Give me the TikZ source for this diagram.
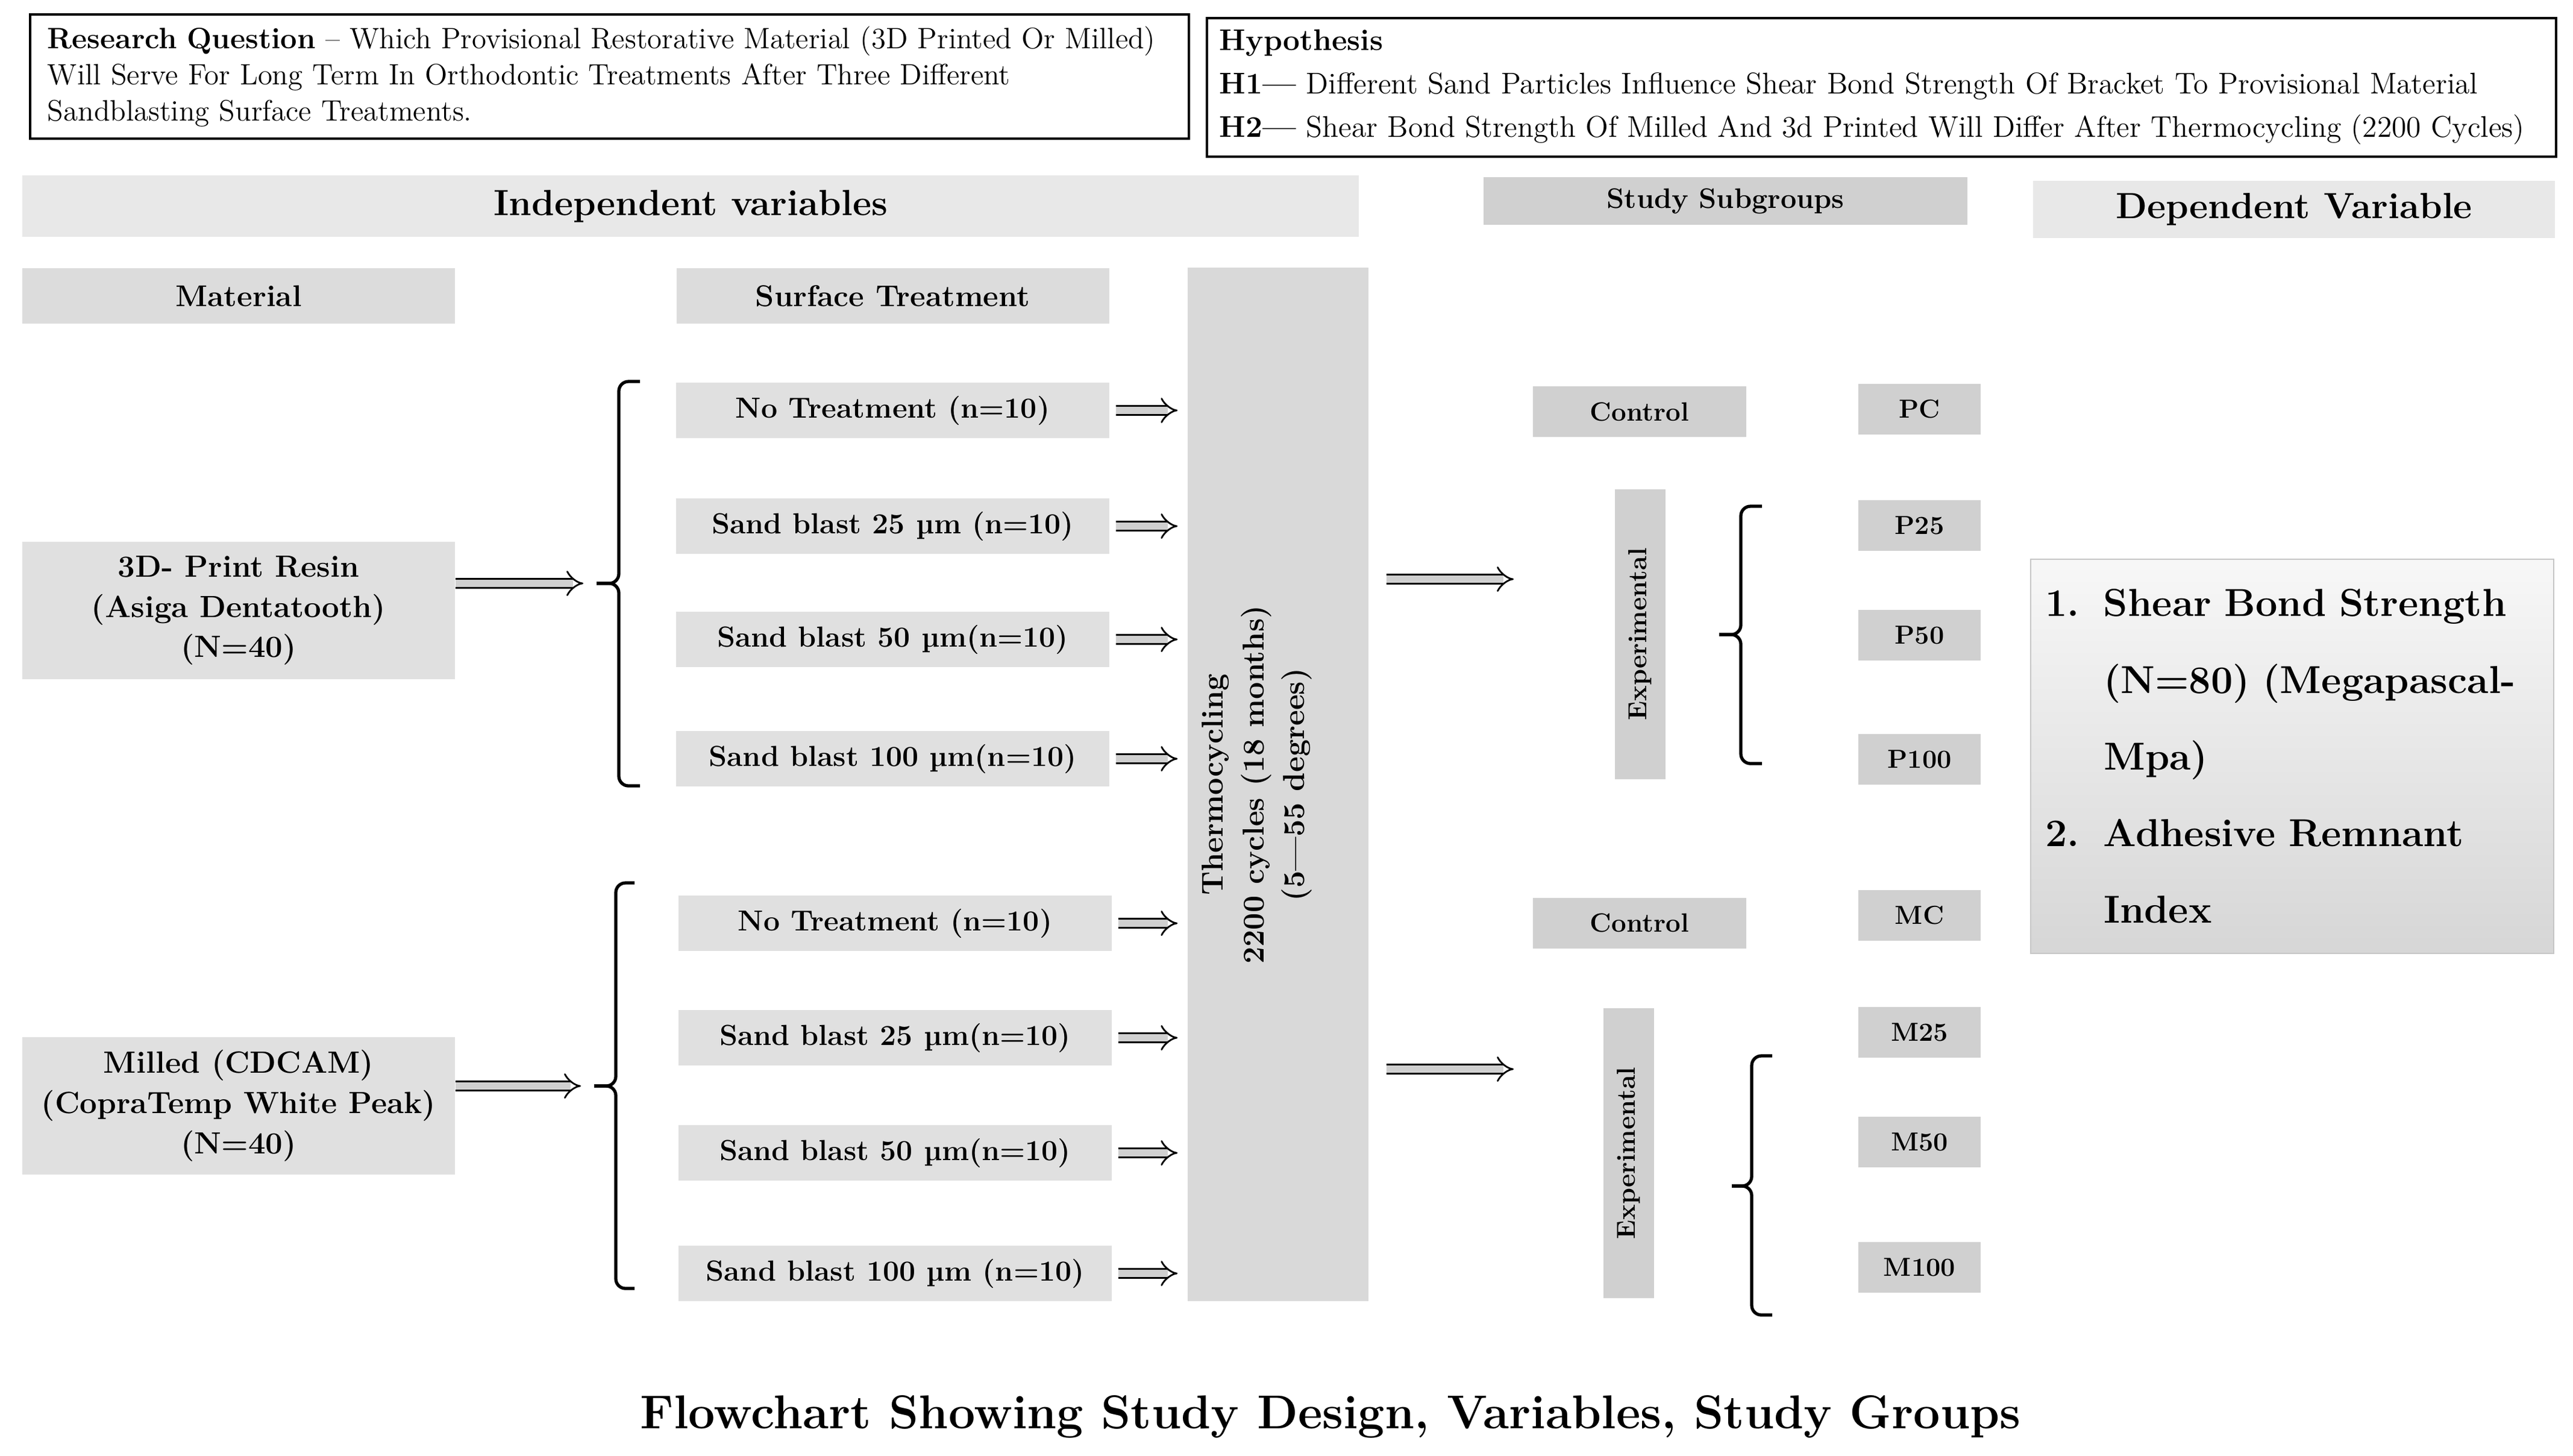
\documentclass[tikz,border=0pt]{standalone}
\usepackage{tikz}
\usetikzlibrary{arrows.meta}
\definecolor{bannergray}{HTML}{E8E8E8}
\definecolor{headgray}{HTML}{DCDCDC}
\definecolor{boxgray}{HTML}{E0E0E0}
\definecolor{cyclegray}{HTML}{D9D9D9}
\definecolor{groupgray}{HTML}{D0D0D0}

\begin{document}
\begin{tikzpicture}[%
% common options for the framed texts:
frame/.style = {draw, line width=1.1pt, align=left, anchor=north west, inner ysep=0},
% common options for the grey blocks:
banner/.style = {fill=bannergray, inner sep=0, font=\bfseries\fontsize{17.2}{20}\selectfont},
head/.style = {fill=headgray, minimum width=7.18cm, minimum height=0.92cm, inner sep=0,
            font=\bfseries\fontsize{14.2}{17}\selectfont},
treat/.style = {fill=boxgray, minimum width=7.19cm, minimum height=0.92cm, inner sep=0,
            font=\bfseries\fontsize{13.7}{16}\selectfont},
mat/.style = {fill=boxgray, align=center, minimum width=7.18cm, minimum height=2.28cm, inner sep=0,
            font=\bfseries\fontsize{14.5}{19}\selectfont},
group/.style = {fill=groupgray, minimum width=2.03cm, minimum height=0.84cm, inner sep=0,
            font=\bfseries\fontsize{12.3}{14}\selectfont},
ctrl/.style = {fill=groupgray, minimum width=3.54cm, minimum height=0.84cm, inner sep=0,
            font=\bfseries\fontsize{12.5}{15}\selectfont},
expbox/.style = {fill=groupgray, rotate=90, minimum width=4.81cm, minimum height=0.84cm, inner sep=0,
            font=\bfseries\fontsize{12.3}{14}\selectfont},
% common options for the hollow arrows and the brackets:
fat/.style = {double=groupgray, double distance=1.2mm, line width=0.8pt, -{Implies}},
bracket/.style = {line width=1.5pt, rounded corners=1.6mm}]
\useasboundingbox (0,0) rectangle (42.70,-24.15);
% question and hypothesis
\node[frame, minimum width=19.23cm, minimum height=2.06cm, text width=18.65cm, inner xsep=0.29cm,
      font=\fontsize{13.9}{17}\selectfont] (question) at (0.48,-0.22)
     {\textbf{Research Question} -- Which Provisional Restorative Material (3D Printed Or Milled)\\
      Will Serve For Long Term In Orthodontic Treatments After Three Different\\
      Sandblasting Surface Treatments.};
\node[frame, minimum width=22.39cm, minimum height=2.30cm, text width=21.97cm, inner xsep=0.21cm,
      font=\fontsize{14.1}{20.5}\selectfont] (hypo) at (20.01,-0.28)
     {\textbf{Hypothesis}\\
      \textbf{H1—} Different Sand Particles Influence Shear Bond Strength Of Bracket To Provisional Material\\
      \textbf{H2—} Shear Bond Strength Of Milled And 3d Printed Will Differ After Thermocycling (2200 Cycles)};
% headings
\node[banner, minimum width=22.18cm, minimum height=1.02cm] (indep) at (11.46,-3.42) {Independent variables};
\node[group, minimum width=8.03cm, minimum height=0.79cm, font=\bfseries\fontsize{13.3}{15}\selectfont]
     (subgroups) at (28.635,-3.335) {Study Subgroups};
\node[banner, minimum width=8.66cm, minimum height=0.95cm] (dependent) at (38.07,-3.475) {Dependent Variable};
\node[head] (material) at (3.96,-4.91) {Material};
\node[head] (surface) at (14.815,-4.91) {Surface Treatment};
% materials
\node[mat] (printed) at (3.96,-10.13) {3D- Print Resin\\(Asiga Dentatooth)\\(N=40)};
\node[mat] (milled) at (3.96,-18.35) {Milled (CDCAM)\\(CopraTemp White Peak)\\(N=40)};
% surface treatments
\node[treat] (pt1) at (14.815,-6.81) {No Treatment (n=10)};
\node[treat] (pt2) at (14.815,-8.73) {Sand blast 25 µm (n=10)};
\node[treat] (pt3) at (14.815,-10.61) {Sand blast 50 µm(n=10)};
\node[treat] (pt4) at (14.815,-12.59) {Sand blast 100 µm(n=10)};
\node[treat] (mt1) at (14.855,-15.32) {No Treatment (n=10)};
\node[treat] (mt2) at (14.855,-17.22) {Sand blast 25 µm(n=10)};
\node[treat] (mt3) at (14.855,-19.13) {Sand blast 50 µm(n=10)};
\node[treat] (mt4) at (14.855,-21.13) {Sand blast 100 µm (n=10)};
% thermocycling
\node[fill=cyclegray, minimum width=3.00cm, minimum height=17.15cm, inner sep=0] (thermo) at (21.21,-13.015) {};
\node[rotate=90, align=center, font=\bfseries\fontsize{14.3}{19.3}\selectfont] (cycles) at (20.86,-13.02)
     {Thermocycling\\2200 cycles (18 months)\\(5—55 degrees)};
% subgroups
\node[ctrl] (pctrl) at (27.21,-6.83) {Control};
\node[ctrl] (mctrl) at (27.21,-15.315) {Control};
\node[expbox] (pexp) at (27.22,-10.525) {Experimental};
\node[expbox] (mexp) at (27.03,-19.135) {Experimental};
\node[group] (pc) at (31.855,-6.79) {PC};
\node[group] (p25) at (31.855,-8.72) {P25};
\node[group] (p50) at (31.855,-10.54) {P50};
\node[group] (p100) at (31.855,-12.595) {P100};
\node[group] (mc) at (31.855,-15.19) {MC};
\node[group] (m25) at (31.855,-17.125) {M25};
\node[group] (m50) at (31.855,-18.95) {M50};
\node[group] (m100) at (31.855,-21.03) {M100};
% dependent variable
\node[draw=gray!45, line width=0.6pt, top color=white!97!black, bottom color=black!16,
      minimum width=8.68cm, minimum height=6.54cm, text width=8.2cm, inner xsep=0.24cm, align=left,
      font=\bfseries\fontsize{18.4}{36.2}\selectfont] (outcome) at (38.04,-12.55)
     {\makebox[0.97cm][l]{1.}Shear Bond Strength\\
      \hspace*{0.97cm}(N=80) (Megapascal-\\
      \hspace*{0.97cm}Mpa)\\
      \makebox[0.97cm][l]{2.}Adhesive Remnant\\
      \hspace*{0.97cm}Index};
% caption
\node[anchor=base, font=\bfseries\fontsize{22.4}{26}\selectfont] (caption) at (22.08,-23.70)
     {Flowchart Showing Study Design, Variables, Study Groups};
% brackets
\coordinate (ptip) at (9.90,-9.68);
\coordinate (mtip) at (9.86,-18.02);
\draw[bracket] (10.62,-6.33) -- (10.27,-6.33) -- (10.27,-9.68) -- (ptip);
\draw[bracket] (ptip) -- (10.27,-9.68) -- (10.27,-13.04) -- (10.62,-13.04);
\draw[bracket] (10.53,-14.65) -- (10.22,-14.65) -- (10.22,-18.02) -- (mtip);
\draw[bracket] (mtip) -- (10.22,-18.02) -- (10.22,-21.38) -- (10.53,-21.38);
\draw[bracket] (29.24,-8.40) -- (28.89,-8.40) -- (28.89,-10.53) -- (28.53,-10.53);
\draw[bracket] (28.53,-10.53) -- (28.89,-10.53) -- (28.89,-12.67) -- (29.24,-12.67);
\draw[bracket] (29.41,-17.52) -- (29.07,-17.52) -- (29.07,-19.68) -- (28.74,-19.68);
\draw[bracket] (28.74,-19.68) -- (29.07,-19.68) -- (29.07,-21.82) -- (29.41,-21.82);
% arrows
\draw[fat, shorten >=2.2mm] (printed.east |- ptip) -- (ptip);
\draw[fat, shorten >=2.2mm] (milled.east |- mtip) -- (mtip);
\draw[fat, shorten <=1mm, shorten >=1.6mm] (pt1.east) -- (thermo.west |- pt1);
\draw[fat, shorten <=1mm, shorten >=1.6mm] (pt2.east) -- (thermo.west |- pt2);
\draw[fat, shorten <=1mm, shorten >=1.6mm] (pt3.east) -- (thermo.west |- pt3);
\draw[fat, shorten <=1mm, shorten >=1.6mm] (pt4.east) -- (thermo.west |- pt4);
\draw[fat, shorten <=1mm, shorten >=1.6mm] (mt1.east) -- (thermo.west |- mt1);
\draw[fat, shorten <=1mm, shorten >=1.6mm] (mt2.east) -- (thermo.west |- mt2);
\draw[fat, shorten <=1mm, shorten >=1.6mm] (mt3.east) -- (thermo.west |- mt3);
\draw[fat, shorten <=1mm, shorten >=1.6mm] (mt4.east) -- (thermo.west |- mt4);
\coordinate (pgo) at (25.12,-9.61);
\coordinate (mgo) at (25.12,-17.74);
\draw[fat, shorten <=2.9mm] (thermo.east |- pgo) -- (pgo);
\draw[fat, shorten <=2.9mm] (thermo.east |- mgo) -- (mgo);
\end{tikzpicture}
\end{document}
